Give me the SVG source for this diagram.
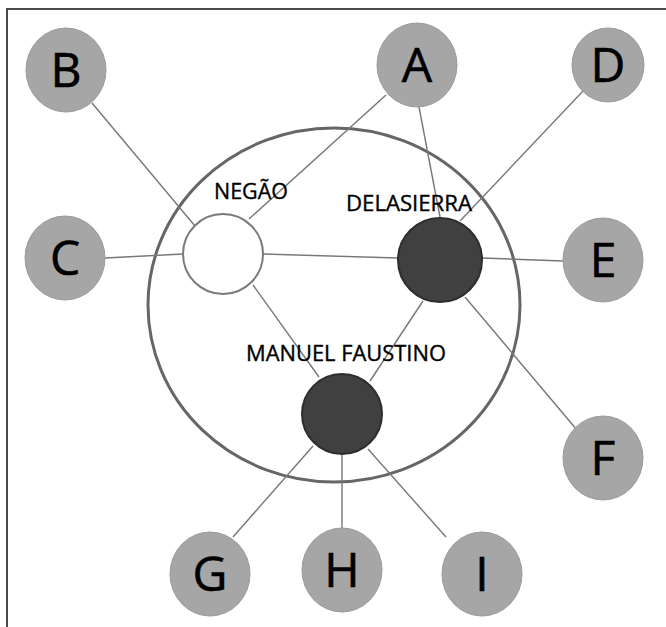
<svg xmlns="http://www.w3.org/2000/svg" width="666" height="627" viewBox="0 0 666 627">
<style>
.frame{stroke:#4a4a4a;stroke-width:2;fill:none}
.outer{fill:#a6a6a6;stroke:#9a9a9a;stroke-width:1}
.letter{font-family:"Open Sans","Liberation Sans",sans-serif;font-size:48px;fill:#000;stroke:#000;stroke-width:0.6;text-anchor:middle}
.core{fill:#404040;stroke:#2e2e2e;stroke-width:2}
.white{fill:#fff;stroke:#7a7a7a;stroke-width:2}
.lbl{font-family:"Open Sans","Liberation Sans",sans-serif;font-size:21px;fill:#000;stroke:#000;stroke-width:0.35}
.conn line{stroke:#777;stroke-width:1.4}
.big{fill:none;stroke:#666;stroke-width:3}
</style>
<rect width="666" height="627" fill="#fff"/>
<path class="frame" d="M7,627 V9 H666"/>
<ellipse id="group" class="big" cx="334" cy="305" rx="186" ry="177"/>
<g id="connectors" class="conn">
<line x1="92" y1="103" x2="195" y2="226"/>
<line x1="386" y1="95" x2="249" y2="219"/>
<line x1="105" y1="258" x2="183" y2="254"/>
<line x1="263" y1="254" x2="398" y2="258"/>
<line x1="253" y1="285" x2="319" y2="377"/>
<line x1="419" y1="107" x2="440" y2="217"/>
<line x1="583" y1="91" x2="460" y2="221"/>
<line x1="482" y1="258" x2="563" y2="261"/>
<line x1="465" y1="297" x2="577" y2="430"/>
<line x1="423" y1="301" x2="370" y2="381"/>
<line x1="313" y1="446" x2="233" y2="537"/>
<line x1="342" y1="455" x2="342" y2="528"/>
<line x1="368" y1="449" x2="446" y2="537"/>
</g>
<g id="node-A"><ellipse class="outer" cx="417" cy="65" rx="40" ry="42"/><text class="letter" x="417" y="82">A</text></g>
<g id="node-B"><ellipse class="outer" cx="66" cy="70" rx="40" ry="42"/><text class="letter" x="66" y="87">B</text></g>
<g id="node-C"><ellipse class="outer" cx="65" cy="258" rx="40" ry="42"/><text class="letter" x="65" y="275">C</text></g>
<g id="node-D"><ellipse class="outer" cx="608" cy="65" rx="36" ry="37"/><text class="letter" x="608" y="82">D</text></g>
<g id="node-E"><ellipse class="outer" cx="603" cy="260" rx="40" ry="42"/><text class="letter" x="603" y="277">E</text></g>
<g id="node-F"><ellipse class="outer" cx="603" cy="458" rx="40" ry="42"/><text class="letter" x="603" y="475">F</text></g>
<g id="node-G"><ellipse class="outer" cx="210" cy="574" rx="40" ry="42"/><text class="letter" x="210" y="591">G</text></g>
<g id="node-H"><ellipse class="outer" cx="342" cy="570" rx="40" ry="42"/><text class="letter" x="342" y="587">H</text></g>
<g id="node-I"><ellipse class="outer" cx="482" cy="574" rx="40" ry="42"/><text class="letter" x="482" y="591">I</text></g>
<g id="node-negao"><circle class="white" cx="223" cy="254" r="40"/><text class="lbl" x="214" y="199" textLength="74" lengthAdjust="spacingAndGlyphs">NEGÃO</text></g>
<g id="node-delasierra"><circle class="core" cx="440" cy="260" r="42"/><text class="lbl" x="346" y="211" textLength="126" lengthAdjust="spacingAndGlyphs">DELASIERRA</text></g>
<g id="node-manuel"><circle class="core" cx="342" cy="414" r="40"/><text class="lbl" x="246" y="361" textLength="200" lengthAdjust="spacingAndGlyphs">MANUEL FAUSTINO</text></g>
</svg>
